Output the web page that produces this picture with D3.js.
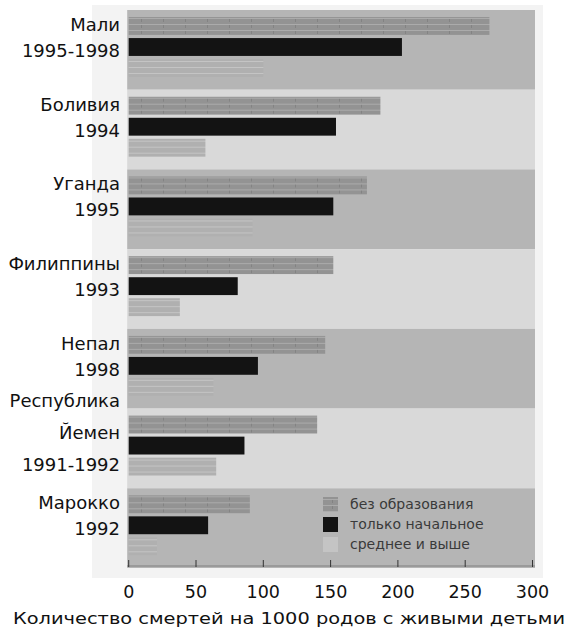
<!DOCTYPE html>
<html>
<head>
<meta charset="utf-8">
<script src="https://cdn.jsdelivr.net/npm/d3@7"></script>
<style>
  html, body { margin: 0; padding: 0; background: #ffffff; }
  svg text { font-family: "DejaVu Sans", sans-serif; }
</style>
</head>
<body>
<svg id="chart" width="570" height="630"></svg>
<script>
// ---- data ----
const countries = ["Мали", "Боливия", "Уганда", "Филиппины", "Непал", "Республика Йемен", "Марокко"];
const labelLines = [
  ["Мали", "1995-1998"],
  ["Боливия", "1994"],
  ["Уганда", "1995"],
  ["Филиппины", "1993"],
  ["Непал", "1998"],
  ["Республика", "Йемен", "1991-1992"],
  ["Марокко", "1992"]
];
const seriesNames = ["без образования", "только начальное", "среднее и выше"];
const noEducation = [268, 187, 177, 152, 146, 140, 90];
const primaryOnly = [203, 154, 152, 81, 96, 86, 59];
const secondaryPlus = [100, 57, 92, 38, 63, 65, 21];
const xTicks = [0, 50, 100, 150, 200, 250, 300];
const xTitle = "Количество смертей на 1000 родов с живыми детьми";

const seriesValues = [noEducation, primaryOnly, secondaryPlus];

// ---- layout ----
const svg = d3.select("#chart");
const plot = { left: 128.7, right: 532.5, top: 10, bottom: 568 };

const x = d3.scaleLinear().domain([0, 300]).range([plot.left, plot.right]);
const y = d3.scaleBand().domain(countries).range([plot.top, plot.bottom]).padding(0);
const ySub = d3.scaleBand().domain(seriesNames)
  .range([6, 68]).paddingInner(0.15).paddingOuter(0.05);

// patterns
const defs = svg.append("defs");
const pg = defs.append("pattern").attr("id", "pGrey")
  .attr("patternUnits", "userSpaceOnUse").attr("width", 22).attr("height", 6);
pg.append("rect").attr("width", 22).attr("height", 6).attr("fill", "#939393");
pg.append("rect").attr("y", 2).attr("width", 22).attr("height", 1).attr("fill", "#ababab");
pg.append("rect").attr("x", 9).attr("y", 3).attr("width", 1).attr("height", 3).attr("fill", "#838383");
const pl = defs.append("pattern").attr("id", "pLight")
  .attr("patternUnits", "userSpaceOnUse").attr("width", 16).attr("height", 6);
pl.append("rect").attr("width", 16).attr("height", 6).attr("fill", "#b0b0b0");
pl.append("rect").attr("y", 3).attr("width", 16).attr("height", 1).attr("fill", "#c4c4c4");

const fills = ["url(#pGrey)", "#131313", "url(#pLight)"];
const legendFills = ["url(#pGrey)", "#131313", "#c4c4c4"];

// outer light backdrop
svg.append("rect")
  .attr("x", 92).attr("y", 5)
  .attr("width", 543 - 92).attr("height", 578 - 5)
  .attr("fill", "#f3f3f3");

// bands
svg.append("g").selectAll("rect").data(countries).join("rect")
  .attr("x", plot.left - 1.5)
  .attr("y", d => y(d))
  .attr("width", 535 - (plot.left - 1.5))
  .attr("height", y.bandwidth())
  .attr("fill", (d, i) => i % 2 === 0 ? "#b5b5b5" : "#d9d9d9");

// bars
const groups = svg.append("g").selectAll("g").data(countries).join("g")
  .attr("transform", d => `translate(0,${y(d)})`);

groups.selectAll("rect").data((d, i) => seriesNames.map((s, j) => ({ s, j, v: seriesValues[j][i] })))
  .join("rect")
  .attr("x", x(0))
  .attr("y", d => ySub(d.s))
  .attr("width", d => x(d.v) - x(0))
  .attr("height", ySub.bandwidth())
  .attr("fill", d => fills[d.j]);

// x axis line and ticks
const axisY = 566;
svg.append("line")
  .attr("x1", plot.left - 1.5).attr("x2", 535)
  .attr("y1", axisY).attr("y2", axisY)
  .attr("stroke", "#9a9a9a").attr("stroke-width", 2);
svg.append("g").selectAll("line").data(xTicks).join("line")
  .attr("x1", d => x(d)).attr("x2", d => x(d))
  .attr("y1", axisY - 6).attr("y2", axisY + 1)
  .attr("stroke", "#333").attr("stroke-width", 1);

svg.append("g").selectAll("text").data(xTicks).join("text")
  .attr("x", d => x(d))
  .attr("y", 598)
  .attr("text-anchor", "middle")
  .attr("font-size", 17.5)
  .attr("fill", "#111")
  .text(d => d);

svg.append("text")
  .attr("x", 289).attr("y", 624)
  .attr("text-anchor", "middle")
  .attr("font-size", 15.5)
  .attr("textLength", 552)
  .attr("lengthAdjust", "spacingAndGlyphs")
  .attr("fill", "#111")
  .text(xTitle);

// y labels
const ylab = svg.append("g");
countries.forEach((c, i) => {
  const lines = labelLines[i];
  const blackMid = y(c) + ySub(seriesNames[1]) + ySub.bandwidth() / 2;
  const gap = lines.length > 2 ? 32 : 26;
  const lastBase = blackMid + (lines.length > 2 ? 25 : 10);
  lines.forEach((t, k) => {
    ylab.append("text")
      .attr("x", 120)
      .attr("y", lastBase - (lines.length - 1 - k) * gap)
      .attr("text-anchor", "end")
      .attr("font-size", 18)
      .attr("fill", "#111")
      .text(t);
  });
});

// legend
const lg = svg.append("g").attr("transform", "translate(323,497)");
seriesNames.forEach((s, j) => {
  lg.append("rect")
    .attr("x", 0).attr("y", j * 20)
    .attr("width", 15).attr("height", 15)
    .attr("fill", legendFills[j]);
  lg.append("text")
    .attr("x", 27).attr("y", j * 20 + 12)
    .attr("font-size", 14)
    .attr("fill", "#3a3a3a")
    .text(s);
});
</script>
</body>
</html>
